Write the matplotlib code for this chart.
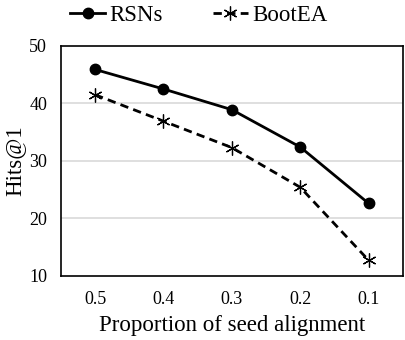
import matplotlib
matplotlib.use('Agg')
import matplotlib.pyplot as plt

# data
proportions = ['0.5', '0.4', '0.3', '0.2', '0.1']
rsns = [45.9, 42.5, 38.9, 32.4, 22.6]
bootea = [41.5, 36.9, 32.3, 25.4, 12.7]
y_ticks = [10, 20, 30, 40, 50]

plt.rcParams['font.family'] = ['Liberation Serif', 'DejaVu Serif']

fig = plt.figure(figsize=(4.06, 3.40), dpi=100)
ax = fig.add_axes([0.150, 0.189, 0.842, 0.676])

x = list(range(len(proportions)))
ax.plot(x, rsns, color='black', lw=2, marker='o', markersize=7.5, label='RSNs')
ax.plot(x, bootea, color='black', lw=2, ls=(0, (3.0, 1.9)), marker=(6, 2, 0),
        markersize=10, markeredgewidth=0.9, label='BootEA')

ax.set_xlim(-0.5, len(proportions) - 0.5)
ax.set_ylim(10, 50)
ax.set_yticks(y_ticks)
ax.set_xticks(x)
ax.set_xticklabels(proportions)
ax.tick_params(length=0, labelsize=13, pad=11)
ax.tick_params(axis='y', pad=10)
for t in y_ticks[1:-1]:
    ax.axhline(t, color='#d9d9d9', lw=1.2, zorder=0)
for s in ax.spines.values():
    s.set_linewidth(1.2)

ax.set_xlabel('Proportion of seed alignment', fontsize=16.5, labelpad=5)
ax.set_ylabel('Hits@1', fontsize=16.5, labelpad=3)

fig.legend(loc='upper center', bbox_to_anchor=(0.49, 1.045), ncol=2,
           frameon=False, fontsize=16.5, handlelength=1.5, columnspacing=2.2,
           handletextpad=0.2)

fig.savefig('out.png', dpi=100)
